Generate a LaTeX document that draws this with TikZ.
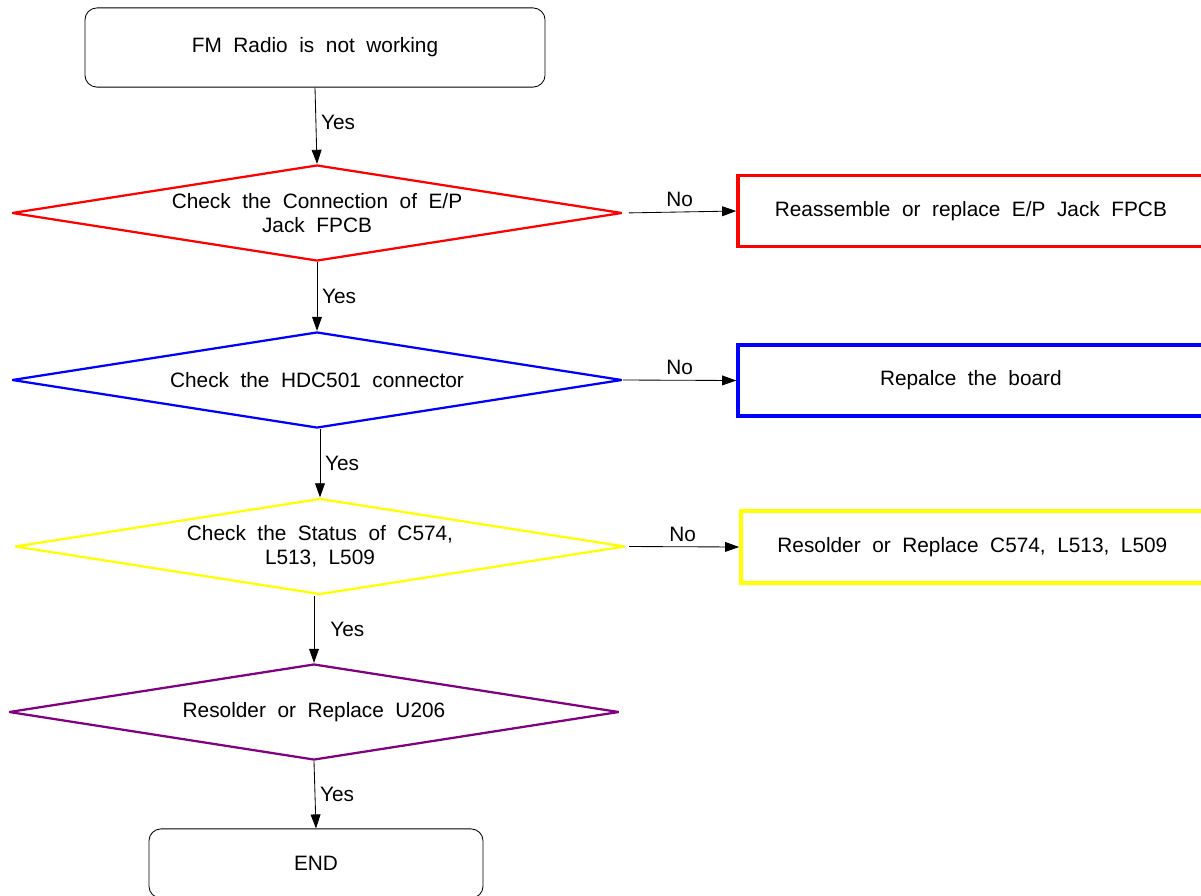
\documentclass[tikz,border=0pt]{standalone}
\usepackage{fontspec}
\setmainfont{Liberation Sans}[WordSpace=2]
\usepackage{xcolor}
\usepackage{tikz}
\usetikzlibrary{positioning,arrows.meta,shapes.geometric}
\definecolor{cRed}{HTML}{FF0000}
\definecolor{cBlue}{HTML}{0000FF}
\definecolor{cYel}{HTML}{FFFF00}
\definecolor{cPur}{HTML}{800080}

\begin{document}
\begin{tikzpicture}[x=0.025cm,y=-0.025cm]
  \tikzset{
    txt/.style={font=\fontsize{14.8}{17}\selectfont, align=center},
    term/.style={txt, draw, rounded corners=0.3cm, line width=0.6pt},
    test/.style={txt, diamond, draw, line width=1.6pt, line join=bevel, inner sep=-10pt,
      aspect=6.35, minimum width=15.25cm, minimum height=2.4cm},
    fix/.style={txt, draw, line width=2.6pt, minimum height=1.78cm},
    flow/.style={-{Triangle[length=10pt,width=7pt]}, line width=0.6pt},
    lbl/.style={font=\fontsize{14.8}{17}\selectfont},
  }
  \useasboundingbox (0,0) rectangle (1201,895);
  \clip (0,0) rectangle (1201,895);
  % start and end
  \node[term, minimum width=11.5cm, minimum height=1.98cm] (start) at (315,47.5) {FM Radio is not working};
  \node[term, minimum width=8.35cm, minimum height=1.73cm] (stop) at (316,863.5) {END};
  % checks
  \node[test, draw=cRed] (conn) at (317,213) {Check the Connection of E/P\\Jack FPCB};
  \node[test, draw=cBlue] (hdc) at (317,380) {Check the HDC501 connector};
  \node[test, draw=cYel] (stat) at (320,546.5) {Check the Status of C574,\\L513, L509};
  \node[test, draw=cPur] (resU) at (314,712) {Resolder or Replace U206};
  % repairs
  \node[fix, draw=cRed, minimum width=11.92cm] (reasm) at (976.5,211) {Reassemble or replace E/P Jack FPCB\hspace{8pt}};
  \node[fix, draw=cBlue, minimum width=11.92cm] (board) at (976.5,380.5) {Repalce the board\hspace{8pt}};
  \node[fix, draw=cYel, minimum width=11.85cm, minimum height=1.8cm] (resC) at (978,547) {Resolder or Replace C574, L513, L509\hspace{8pt}};
  % yes path
  \draw[flow] (start.south) -- node[lbl, right, yshift=2pt] {Yes} (conn.north);
  \draw[flow] (conn.south) -- node[lbl, right] {Yes} (hdc.north);
  \draw[flow] (hdc.south -| stat.north) -- node[lbl, right] {Yes} (stat.north);
  \draw[flow] (stat.south -| resU.north) -- node[lbl, right, xshift=8pt] {Yes} (resU.north);
  \draw[flow] (resU.south) -- node[lbl, right] {Yes} (stop.north);
  % no path
  \draw[flow, shorten <=4pt] (conn.east) -- node[lbl, above] {No} (reasm.west);
  \draw[flow] (hdc.east) -- node[lbl, above] {No} (board.west);
  \draw[flow, shorten <=2pt] (stat.east) -- node[lbl, above] {No} (resC.west);
\end{tikzpicture}
\end{document}
